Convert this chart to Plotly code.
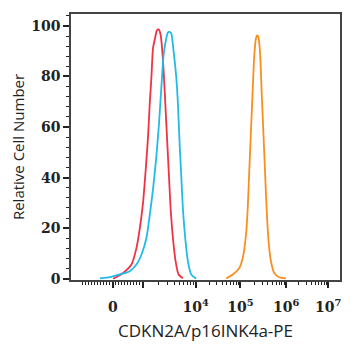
import numpy as np
import plotly.graph_objects as go

# ---- data (x in display channels 0-1000 across the plot window, y = relative cell number) ----
red_x = [156.8, 193.8, 224.7, 243.2, 255.6, 267.9, 277.8, 286.4, 292.6, 298.8, 304.9, 312.3,
         319.8, 325.9, 333.3, 339.5, 345.7, 351.9, 358.0, 364.2, 370.4, 379.0, 388.9, 400.0, 416.0]
red_y = [0.0, 2.3, 5.6, 12.1, 19.8, 30.2, 43.2, 56.2, 69.1, 79.5, 91.2, 95.1,
         98.3, 98.6, 96.4, 89.9, 79.5, 66.5, 53.6, 40.6, 27.6, 16.0, 6.9, 1.7, 0.2]

blue_x = [107.4, 144.4, 181.5, 218.5, 243.2, 261.7, 280.2, 292.6, 304.9, 317.3, 327.2, 335.8,
          344.4, 354.3, 360.5, 366.7, 372.8, 381.5, 391.4, 397.5, 403.7, 409.9, 416.0, 425.9,
          434.6, 447.0, 465.4]
blue_y = [0.1, 0.6, 1.7, 3.0, 5.6, 9.5, 16.0, 25.0, 35.4, 48.4, 61.4, 75.6,
          88.6, 95.1, 97.4, 97.6, 97.0, 89.9, 79.5, 69.1, 53.6, 40.6, 27.6, 14.7,
          6.9, 1.7, 0.1]

orange_x = [576.5, 601.2, 625.9, 638.3, 650.6, 656.8, 663.0, 669.1, 675.3, 681.5, 687.7, 691.4,
            696.3, 702.5, 708.6, 714.8, 721.0, 727.2, 734.6, 743.2, 755.6, 774.1, 798.8]
orange_y = [0.1, 1.7, 4.3, 8.2, 17.3, 27.6, 43.2, 58.8, 74.3, 88.6, 95.1, 96.2,
            95.7, 89.9, 74.3, 58.8, 43.2, 27.6, 14.7, 6.9, 2.3, 0.6, 0.1]

x_tick_labels = ["0", "", "10<sup>4</sup>", "10<sup>5</sup>", "10<sup>6</sup>", "10<sup>7</sup>"]
x_tick_vals = [155.6, 266.7, 463.0, 629.6, 800.0, 955.6]

y_tick_vals = [0, 20, 40, 60, 80, 100]

# ---- minor tick positions (biexponential-style axis) ----
def decade_minor(a, b):
    return [a + np.log10(k) * (b - a) for k in range(2, 10)]

zero, thousand = x_tick_vals[0], x_tick_vals[1]
minor_x = []
for k in range(1, 10):
    minor_x.append(zero + k / 10 * (thousand - zero))
    minor_x.append(zero - k / 10 * (thousand - zero))
minor_x.append(zero - (thousand - zero))
minor_x += decade_minor(thousand, x_tick_vals[2])
for i in range(2, 5):
    minor_x += decade_minor(x_tick_vals[i], x_tick_vals[i + 1])
minor_x = [v for v in minor_x if 0 <= v <= 1000]

fig = go.Figure()
for xs, ys, col in [(red_x, red_y, "#EE3344"),
                    (blue_x, blue_y, "#22BBE8"),
                    (orange_x, orange_y, "#F79020")]:
    fig.add_trace(go.Scatter(x=xs, y=ys, mode="lines",
                             line=dict(color=col, width=1.8, shape="spline", smoothing=0.6),
                             showlegend=False, hoverinfo="skip"))

fig.update_layout(
    width=354, height=350,
    margin=dict(l=71, r=13, t=12, b=69),
    paper_bgcolor="white", plot_bgcolor="white",
    showlegend=False,
)
fig.update_xaxes(
    range=[0, 1000], showgrid=False, zeroline=False,
    showline=True, linecolor="#444", linewidth=1.5, mirror=True,
    ticks="outside", ticklen=6, tickwidth=1.5, tickcolor="#222",
    tickmode="array", tickvals=x_tick_vals, ticktext=x_tick_labels,
    ticklabelstandoff=7,
    tickfont=dict(family="DejaVu Serif", size=14, color="#222", weight="bold"),
    minor=dict(tickmode="array", tickvals=minor_x, ticks="outside", ticklen=3,
               tickwidth=1, tickcolor="#222"),
    title=dict(text="CDKN2A/p16INK4a-PE",
               font=dict(family="Open Sans", size=17, color="#222"), standoff=12),
)
fig.update_yaxes(
    range=[-0.5, 104.7], showgrid=False, zeroline=False,
    showline=True, linecolor="#444", linewidth=1.5, mirror=True,
    ticks="outside", ticklen=6, tickwidth=1.5, tickcolor="#222",
    tickmode="array", tickvals=y_tick_vals,
    tickfont=dict(family="DejaVu Serif", size=14, color="#222", weight="bold"),
    minor=dict(dtick=4, ticks="outside", ticklen=3, tickwidth=1, tickcolor="#222"),
    title=dict(text="Relative Cell Number",
               font=dict(family="Open Sans", size=15, color="#222"), standoff=3),
)

fig.write_html("out.html")
